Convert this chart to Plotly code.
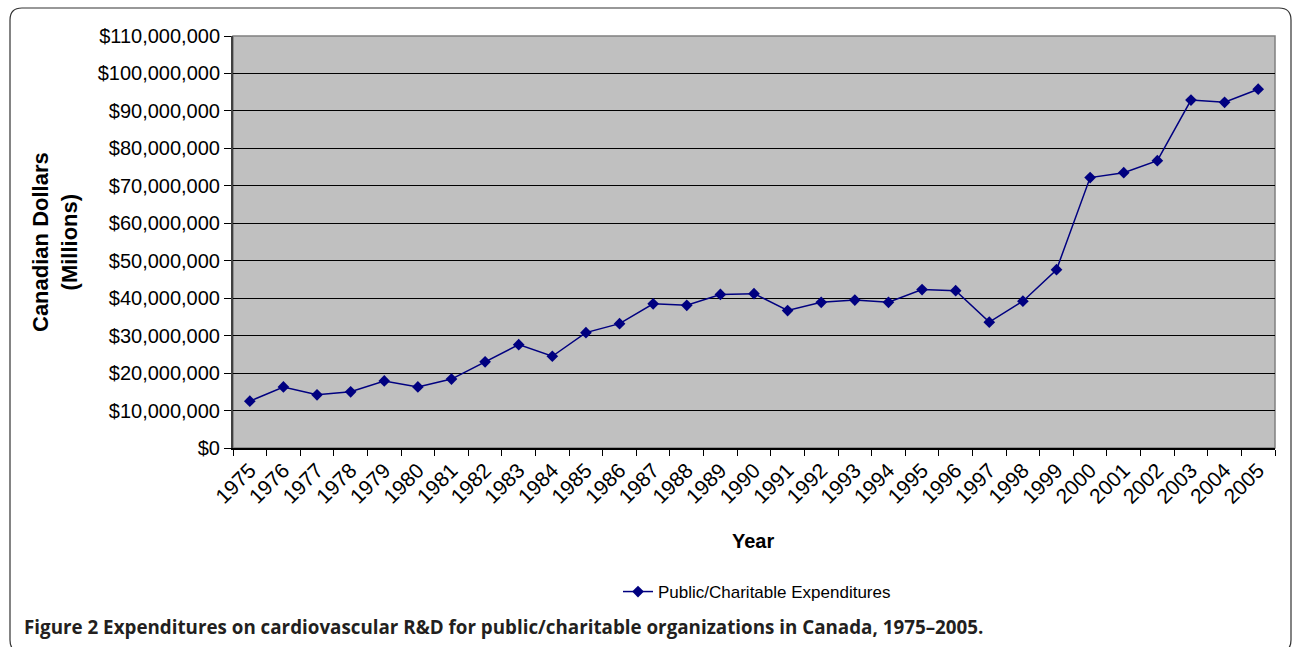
import plotly.graph_objects as go

years = [str(y) for y in range(1975, 2006)]
expenditures = [
    12.5e6, 16.3e6, 14.2e6, 15.0e6, 17.9e6, 16.3e6, 18.4e6, 23.0e6, 27.6e6, 24.5e6,
    30.8e6, 33.2e6, 38.5e6, 38.1e6, 41.0e6, 41.2e6, 36.7e6, 38.9e6, 39.5e6, 38.9e6,
    42.3e6, 42.0e6, 33.6e6, 39.2e6, 47.6e6, 72.2e6, 73.5e6, 76.7e6, 92.9e6, 92.3e6,
    95.8e6,
]
series_name = "Public/Charitable Expenditures"

W, H = 1292, 647
L, R, T, B = 233, 1275, 36, 448

def px(x):
    return (x - L) / (R - L)

def py(y):
    return (B - y) / (B - T)

font_main = "Liberation Sans, Arial, sans-serif"

fig = go.Figure()
fig.add_trace(go.Scatter(
    x=years, y=expenditures, mode="lines+markers", name=series_name,
    line=dict(color="#000080", width=1.5),
    marker=dict(symbol="diamond", size=9, color="#000080"),
))

# rounded frame
x0, x1, y0, y1 = px(10), px(1291), py(8), py(652)
rx, ry = 12 / (R - L), 12 / (B - T)
frame = (f"M {x0},{y1 + ry} L {x0},{y0 - ry} Q {x0},{y0} {x0 + rx},{y0} "
         f"L {x1 - rx},{y0} Q {x1},{y0} {x1},{y0 - ry} L {x1},{y1 + ry} "
         f"Q {x1},{y1} {x1 - rx},{y1} L {x0 + rx},{y1} Q {x0},{y1} {x0},{y1 + ry} Z")

fig.update_layout(
    width=W, height=H,
    margin=dict(l=L, r=W - R, t=T, b=H - B),
    paper_bgcolor="white", plot_bgcolor="#C0C0C0",
    font=dict(family=font_main, color="black", size=20),
    showlegend=True,
    legend=dict(x=px(757), xanchor="center", y=py(592), yanchor="middle",
                orientation="h", font=dict(size=17, family=font_main),
                bgcolor="rgba(0,0,0,0)"),
    shapes=[
        dict(type="rect", xref="paper", yref="paper", x0=0, x1=1, y0=0, y1=1,
             line=dict(color="#808080", width=1.5), layer="below"),
        dict(type="path", xref="paper", yref="paper", path=frame,
             line=dict(color="#333333", width=1.2)),
    ],
    annotations=[
        dict(text="<b>Canadian Dollars<br>(Millions)</b>", xref="paper", yref="paper",
             x=px(55), y=0.5, xanchor="center", yanchor="middle", textangle=-90,
             showarrow=False, font=dict(size=22, family=font_main)),
        dict(text="<b>Year</b>", xref="paper", yref="paper", x=px(753), y=py(541),
             xanchor="center", yanchor="middle",
             showarrow=False, font=dict(size=20, family=font_main)),
        dict(text="<b>Figure 2 Expenditures on cardiovascular R&D for public/charitable organizations in Canada, 1975–2005.</b>",
             xref="paper", yref="paper", x=px(22), y=py(627), xanchor="left",
             yanchor="middle", showarrow=False,
             font=dict(size=18.8, family="Open Sans, sans-serif", color="#231f20")),
    ],
)

fig.update_xaxes(
    type="category", range=[-0.5, len(years) - 0.5],
    tickangle=-45, ticks="outside", tickson="boundaries", ticklen=6,
    tickcolor="black", showline=True, linecolor="black", linewidth=1.5,
    showgrid=False, tickfont=dict(size=21),
)
fig.update_yaxes(
    range=[0, 110e6], dtick=10e6, tickprefix="$", tickformat=",.0f",
    ticks="outside", ticklen=7, tickcolor="black",
    showline=True, linecolor="#404040", linewidth=2,
    showgrid=True, gridcolor="black", gridwidth=1, zeroline=False,
    tickfont=dict(size=20),
)

fig.write_html("out.html", config={"displayModeBar": False},
               post_script="document.body.style.margin='0px';document.body.style.padding='0px';")
